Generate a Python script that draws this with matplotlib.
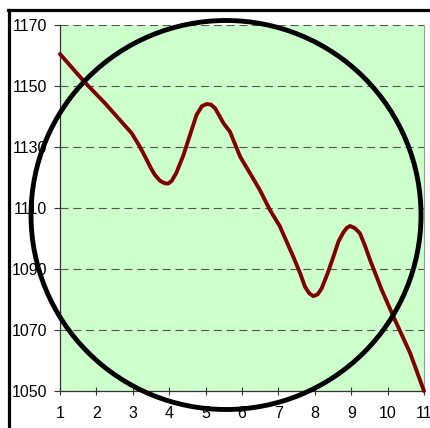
import matplotlib
matplotlib.use('Agg')
import matplotlib.pyplot as plt
from matplotlib.patches import Ellipse
from matplotlib.lines import Line2D

plt.rcParams['font.family'] = ['Liberation Sans', 'DejaVu Sans']
plt.rcParams['lines.scale_dashes'] = False

# values (x on the 1..11 category axis)
xs = [1.0, 1.69, 2.24, 2.97, 3.15, 3.34, 3.5, 3.61, 3.75, 3.88, 3.97, 4.07, 4.2, 4.39,
      4.6, 4.75, 4.9, 5.03, 5.15, 5.26, 5.38, 5.49, 5.67, 5.95, 6.22, 6.49, 6.77,
      7.04, 7.41, 7.6, 7.73, 7.85, 7.96, 8.08, 8.19, 8.35, 8.51, 8.65, 8.78, 8.88,
      8.97, 9.1, 9.24, 9.38, 9.52, 9.84, 10.16, 10.62, 11.0]
ys = [1160.5, 1151.1, 1144.3, 1134.5, 1131.0, 1126.8, 1123.0, 1120.8, 1118.9, 1118.1, 1118.0, 1118.9, 1121.6, 1127.3,
      1135.0, 1140.5, 1143.4, 1144.1, 1143.9, 1142.7, 1140.2, 1137.8, 1135.0, 1126.8, 1121.4, 1115.9, 1109.3,
      1104.0, 1094.0, 1088.5, 1084.2, 1082.0, 1081.1, 1081.7, 1083.7, 1088.5, 1094.0, 1099.0, 1101.9, 1103.5,
      1104.1, 1103.4, 1101.7, 1097.6, 1092.9, 1083.1, 1074.4, 1062.4, 1050.0]
x_ticks = [1, 2, 3, 4, 5, 6, 7, 8, 9, 10, 11]
y_ticks = [1050, 1070, 1090, 1110, 1130, 1150, 1170]

W, H = 431, 428
fig = plt.figure(figsize=(W / 100, H / 100), dpi=100)
fig.patch.set_facecolor('white')
ax = fig.add_axes([60 / W, 1 - 391 / H, 364 / W, 366 / H])
ax.set_facecolor('#CCFFCC')

for yv in y_ticks[1:]:
    ax.axhline(yv, color='#555555', lw=0.8, dashes=(5.8, 3.4), zorder=1)

ax.plot(xs, ys, color='#800000', lw=2.8, solid_joinstyle='round',
        solid_capstyle='round', zorder=3, clip_on=False)

ax.set_xlim(1, 11)
ax.set_ylim(1050, 1170)
ax.set_xticks(x_ticks)
ax.set_yticks(y_ticks)
ax.tick_params(axis='x', direction='inout', length=6, width=0.8, color='#333333',
               pad=8, labelsize=11.5)
ax.tick_params(axis='y', direction='out', length=4, width=0.8, color='#333333',
               pad=5, labelsize=11.5)
ax.spines['top'].set_visible(False)
ax.spines['right'].set_color('#999999')
ax.spines['right'].set_linewidth(0.8)
for s in ['left', 'bottom']:
    ax.spines[s].set_color('#333333')
    ax.spines[s].set_linewidth(0.9)

# frame lines (left and top edges of the chart border)
fig.add_artist(Line2D([9.5 / W, 9.5 / W], [0, 1 - 10 / H], color='black', lw=2.3,
                      transform=fig.transFigure))
fig.add_artist(Line2D([8.5 / W, 1], [1 - 10 / H, 1 - 10 / H], color='black', lw=2.3,
                      transform=fig.transFigure))

# circle overlay
fig.add_artist(Ellipse((226 / W, 1 - 215 / H), 390 / W, 389 / H, fill=False,
                       edgecolor='black', lw=3.5, transform=fig.transFigure, zorder=5))

fig.savefig('out.png', dpi=100)
